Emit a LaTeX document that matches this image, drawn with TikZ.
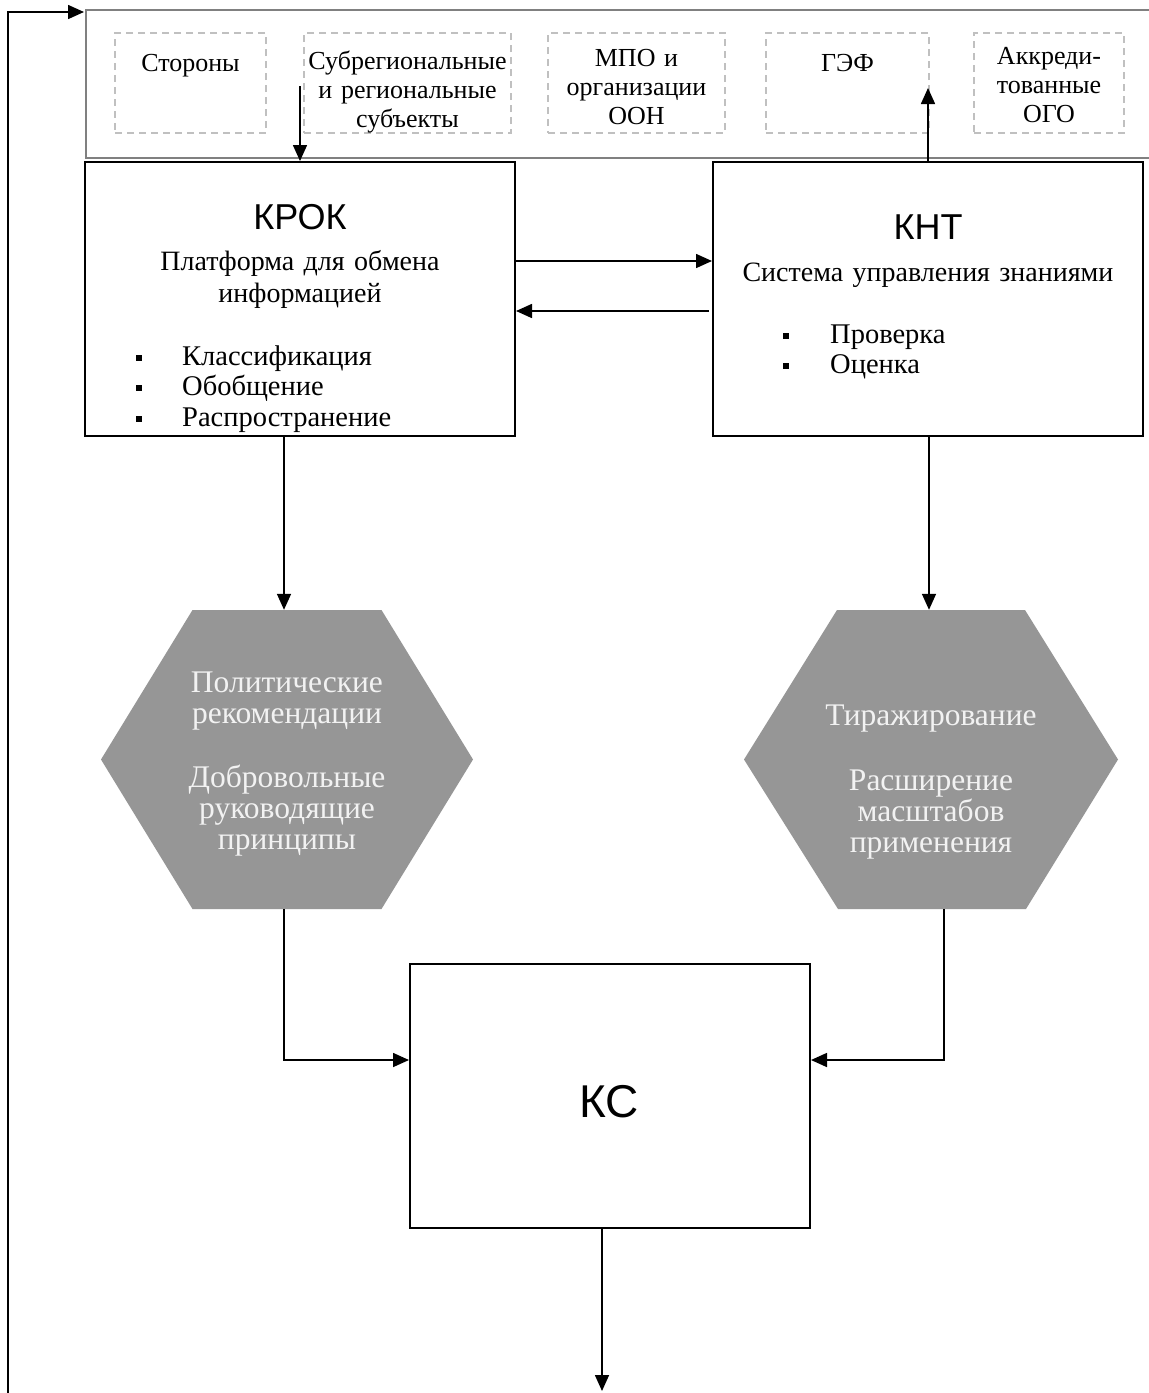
\documentclass[tikz,border=0pt]{standalone}
\usepackage{fontspec}
\setmainfont{Liberation Serif}
\newfontfamily\arialf{Liberation Sans}
\usetikzlibrary{arrows.meta}
\definecolor{hexgray}{RGB}{150,150,150}
\definecolor{hextext}{RGB}{242,242,242}
\definecolor{bargray}{RGB}{128,128,128}
\definecolor{dashgray}{RGB}{192,192,192}
\begin{document}
\begin{tikzpicture}[x=1pt,y=-1pt,
  mainbox/.style={draw=black, line width=2pt, inner sep=0pt},
  barbox/.style={draw=bargray, line width=1.5pt, inner sep=0pt},
  dbox/.style={draw=dashgray, line width=1.5pt, dash pattern=on 7pt off 5pt, inner sep=0pt},
  hexarea/.style={inner sep=0pt},
  hexshape/.style={fill=hexgray, draw=none},
  arr/.style={draw=black, line width=1.6pt, -{Triangle[length=16pt,width=14pt]}},
  toptxt/.style={inner sep=0pt, anchor=base, align=center, text width=220pt, font=\fontsize{26}{29}\selectfont},
  bodytxt/.style={inner sep=0pt, anchor=base, align=center, text width=420pt, font=\fontsize{28}{32}\selectfont},
  listtxt/.style={inner sep=0pt, anchor=base west, align=left, text width=260pt, font=\fontsize{28.5}{30.5}\selectfont},
  titletxt/.style={inner sep=0pt, anchor=base, font=\arialf\fontsize{36}{40}\selectfont},
  hextxt/.style={inner sep=0pt, anchor=base, align=center, text width=340pt, text=hextext, font=\fontsize{31.5}{31}\selectfont},
  bulletsq/.style={fill=black, inner sep=0pt, minimum size=6pt}
]
\useasboundingbox (0,0) rectangle (1149,1393);
\fill[white] (0,0) rectangle (1149,1393);

% top bar with participants
\node[barbox, minimum width=1090pt, minimum height=148pt, anchor=north west] (bar) at (85,9) {};
\node[dbox, minimum width=151pt, minimum height=100pt] (d1) at (190.5,83) {};
\node[dbox, minimum width=207pt, minimum height=100pt] (d2) at (407.5,83) {};
\node[dbox, minimum width=177pt, minimum height=100pt] (d3) at (636.5,83) {};
\node[dbox, minimum width=163pt, minimum height=100pt] (d4) at (847.5,83) {};
\node[dbox, minimum width=150pt, minimum height=100pt] (d5) at (1049,83) {};
\node[toptxt] (t1) at (190.5,71) {Стороны};
\node[toptxt] (t2) at (407.5,69) {Субрегиональные\\и региональные\\субъекты};
\node[toptxt] (t3) at (636.5,66) {МПО и\\организации\\ООН};
\node[toptxt] (t4) at (847.5,71) {ГЭФ};
\node[toptxt] (t5) at (1049,64) {Аккреди-\\тованные\\ОГО};

% main boxes
\node[mainbox, minimum width=430pt, minimum height=274pt] (krok) at (300,299) {};
\node[mainbox, minimum width=430pt, minimum height=274pt] (knt) at (928,299) {};
\node[mainbox, minimum width=400pt, minimum height=264pt] (ks) at (610,1096) {};

\node[titletxt] (krokt) at (300,229) {КРОК};
\node[bodytxt] (kroks) at (300,270) {Платформа для обмена\\информацией};
\node[bulletsq] (kb1) at (139,358) {};
\node[bulletsq] (kb2) at (139,388) {};
\node[bulletsq] (kb3) at (139,419) {};
\node[listtxt] (krokl) at (182,365) {Классификация\\Обобщение\\Распространение};

\node[titletxt] (kntt) at (928,239) {КНТ};
\node[bodytxt] (knts) at (928,281) {Система управления знаниями};
\node[bulletsq] (nb1) at (786,336) {};
\node[bulletsq] (nb2) at (786,366) {};
\node[listtxt] (kntl) at (830,343) {Проверка\\Оценка};

\node[titletxt, font=\arialf\fontsize{46}{50}\selectfont] (kst) at (609,1117) {КС};

% hexagons
\node[hexarea, minimum width=372pt, minimum height=299pt] (hexL) at (287,759.5) {};
\node[hexarea, minimum width=374pt, minimum height=299pt] (hexR) at (931,759.5) {};
\fill[hexshape] (192.5,610) -- (381.5,610) -- (473,759.5) -- (381.5,909) -- (192.5,909) -- (101,759.5) -- cycle;
\fill[hexshape] (837,610) -- (1025,610) -- (1118,759.5) -- (1026,909) -- (838,909) -- (744,759.5) -- cycle;
\node[hextxt] (hexLt) at (287,692) {Политические\\рекомендации\\[33pt]Добровольные\\руководящие\\принципы};
\node[hextxt] (hexRt) at (931,725) {Тиражирование\\[34pt]Расширение\\масштабов\\применения};

% helper coordinates
\coordinate (d2in) at (300,86);
\coordinate (gefin) at (928,88);
\coordinate (r1) at (0,261);
\coordinate (r2) at (709,311);
\coordinate (colL) at (284,0);
\coordinate (colRin) at (929,0);
\coordinate (colR) at (944,0);
\coordinate (ky) at (0,1060);
\coordinate (ksend) at (602,1391);
\coordinate (fbstart) at (8,1393);
\coordinate (fbend) at (84,12);

% connectors
\draw[arr] (d2in) -- (krok.north -| d2in);
\draw[arr] (knt.north) -- (gefin);
\draw[arr] (krok.east |- r1) -- (knt.west |- r1);
\draw[arr] (r2) -- (krok.east |- r2);
\draw[arr] (krok.south -| colL) -- (hexL.north -| colL);
\draw[arr] (knt.south -| colRin) -- (hexR.north -| colRin);
\draw[arr] (hexL.south -| colL) |- (ks.west |- ky);
\draw[arr] (hexR.south -| colR) |- (ks.east |- ky);
\draw[arr] (ks.south -| ksend) -- (ksend);
\draw[arr] (fbstart) |- (fbend);
\end{tikzpicture}
\end{document}
